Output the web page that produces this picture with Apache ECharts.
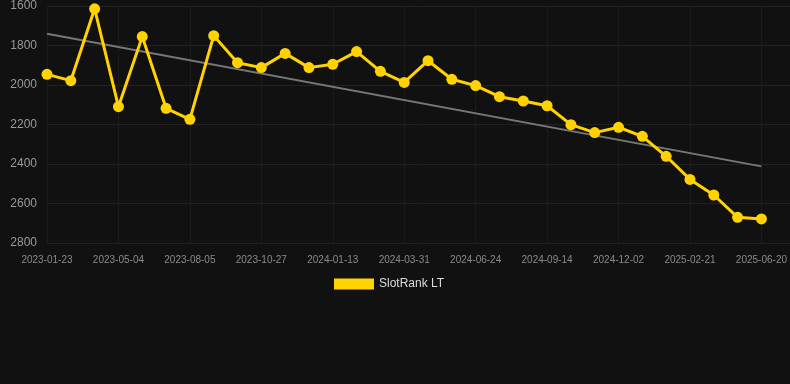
<!DOCTYPE html>
<html>
<head>
<meta charset="utf-8">
<script src="https://cdn.jsdelivr.net/npm/echarts@6/dist/echarts.min.js"></script>
<style>
html,body{margin:0;padding:0;background:#111111;}
#c{width:790px;height:384px;}
</style>
</head>
<body>
<div id="c"></div>
<script>
var categories = [
  '2023-01-23','2023-02-22','2023-03-30','2023-05-04','2023-06-05','2023-07-05',
  '2023-08-05','2023-09-01','2023-09-30','2023-10-27','2023-11-22','2023-12-18',
  '2024-01-13','2024-02-08','2024-03-05','2024-03-31','2024-04-28','2024-05-27',
  '2024-06-24','2024-07-21','2024-08-17','2024-09-14','2024-10-10','2024-11-06',
  '2024-12-02','2024-12-29','2025-01-25','2025-02-21','2025-03-31','2025-05-12',
  '2025-06-20'
];
var rankValues = [
  1946, 1978, 1614, 2110, 1755, 2118, 2174, 1750, 1887, 1912, 1840,
  1912, 1895, 1831, 1931, 1987, 1877, 1971, 2003, 2059, 2081,
  2105, 2201, 2241, 2214, 2260, 2361, 2478, 2557, 2670, 2678
];
var trendEnds = [1740, 2412];
var yTicks = [1600, 2800, 200];
var seriesName = 'SlotRank LT';

var mainData = rankValues.map(function (v, i) { return [i, v]; });
var trendData = [[0, trendEnds[0]], [categories.length - 1, trendEnds[1]]];

var chart = echarts.init(document.getElementById('c'));
chart.setOption({
  backgroundColor: '#111111',
  animation: false,
  grid: { left: 47, right: 0, top: 6, bottom: 141 },
  legend: {
    data: [seriesName],
    top: 273,
    left: 329,
    itemWidth: 40,
    itemHeight: 11,
    itemGap: 10,
    textStyle: { color: '#dddddd', fontSize: 12, fontFamily: 'Liberation Sans, Arial, sans-serif' },
    icon: 'rect'
  },
  xAxis: {
    type: 'value',
    min: 0,
    max: 31.2,
    interval: 3,
    axisLine: { show: false },
    axisTick: { show: false },
    splitLine: { show: true, lineStyle: { color: '#1b1b1b', width: 1 } },
    axisLabel: {
      color: '#8a8a8a',
      fontSize: 10,
      fontFamily: 'Liberation Sans, Arial, sans-serif',
      margin: 12,
      showMaxLabel: false,
      formatter: function (v) {
        return (Math.round(v) === v && categories[v]) ? categories[v] : '';
      }
    }
  },
  yAxis: {
    type: 'value',
    inverse: true,
    min: yTicks[0],
    max: yTicks[1],
    interval: yTicks[2],
    axisLine: { show: false },
    axisTick: { show: false },
    splitLine: { show: true, lineStyle: { color: '#222222', width: 1 } },
    axisLabel: {
      color: '#9a9a9a',
      fontSize: 12,
      fontFamily: 'Liberation Sans, Arial, sans-serif',
      margin: 10,
      formatter: function (v) { return String(v); }
    }
  },
  series: [
    {
      name: 'trend',
      type: 'line',
      data: trendData,
      symbol: 'none',
      lineStyle: { color: '#777777', width: 2 },
      silent: true,
      z: 1
    },
    {
      name: seriesName,
      type: 'line',
      data: mainData,
      symbol: 'circle',
      symbolSize: 11,
      itemStyle: { color: '#FFD200' },
      lineStyle: { color: '#FFD200', width: 3 },
      z: 2
    }
  ]
});
</script>
</body>
</html>
